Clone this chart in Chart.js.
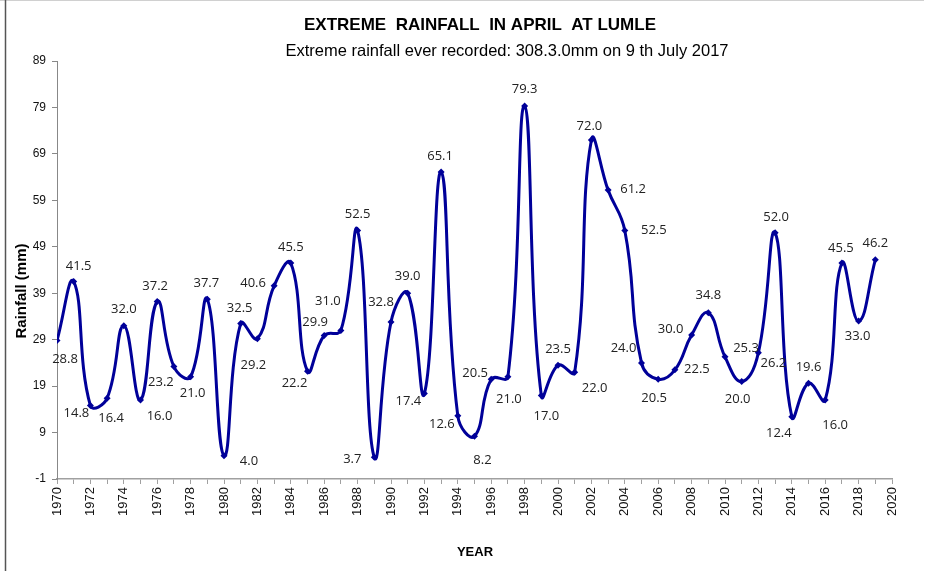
<!DOCTYPE html>
<html>
<head>
<meta charset="utf-8">
<script src="https://cdn.jsdelivr.net/npm/chart.js@4.4.1/dist/chart.umd.min.js"></script>
<style>
  html, body { margin: 0; padding: 0; background: #fff; }
  #wrap { width: 925px; height: 571px; position: relative; }
</style>
</head>
<body>
<div id="wrap"><canvas id="rain_canvas"></canvas></div>
<script>
// Extreme April rainfall at Lumle, one value per year
var years = [];
for (var y = 1970; y <= 2019; y++) years.push(y);

var rainfall = [
  28.8, 41.5, 14.8, 16.4, 32.0, 16.0, 37.2, 23.2, 21.0, 37.7,
  4.0, 32.5, 29.2, 40.6, 45.5, 22.2, 29.9, 31.0, 52.5, 3.7,
  32.8, 39.0, 17.4, 65.1, 12.6, 8.2, 20.5, 21.0, 79.3, 17.0,
  23.5, 22.0, 72.0, 61.2, 52.5, 24.0, 20.5, 22.5, 30.0, 34.8,
  25.3, 20.0, 26.2, 52.0, 12.4, 19.6, 16.0, 45.5, 33.0, 46.2
];

var yTicks = [-1, 9, 19, 29, 39, 49, 59, 69, 79, 89];
var xMin = 1970, xMax = 2020;

var titleText = "EXTREME  RAINFALL  IN APRIL  AT LUMLE";
var subtitleText = "Extreme rainfall ever recorded: 308.3.0mm on 9 th July 2017";
var yTitle = "Rainfall (mm)";
var xTitle = "YEAR";

// where each value label sits relative to its point (style only)
var labelOffsets = [
  [8, 19], [5, -15], [-14, 8], [4, 20], [0, -16], [19, 16], [-2, -15], [-13, 16], [2, 16], [-1, -16],
  [25, 6], [-1, -15], [-4, 27], [-21, -2], [0, -16], [-13, 12], [-9, -13], [-13, -29], [0, -16], [-22, 2],
  [-10, -20], [0, -17], [-16, 8], [-1, -16], [-16, 8], [8, 24], [-16, -6], [1, 22], [0, -17], [5, 21],
  [0, -16], [20, 16], [-2, -14], [25, -1], [29, 0], [-18, -15], [-4, 19], [22, -1], [-21, -6], [0, -17],
  [21, -9], [-4, 18], [15, 11], [1, -16], [-13, 17], [0, -16], [10, 25], [-1, -15], [-1, 15], [0, -16]
];

var points = years.map(function (yr, i) { return { x: yr, y: rainfall[i] }; });

var textPlugin = {
  id: 'texts',
  beforeDraw: function (chart) {
    var ctx = chart.ctx;
    ctx.save();
    ctx.fillStyle = '#fff';
    ctx.fillRect(0, 0, chart.width, chart.height);
    ctx.restore();
  },
  afterDraw: function (chart) {
    var ctx = chart.ctx;
    ctx.save();
    // frame
    ctx.strokeStyle = '#d0d0d0';
    ctx.lineWidth = 2;
    ctx.beginPath(); ctx.moveTo(0, 0); ctx.lineTo(924, 0); ctx.stroke();
    ctx.strokeStyle = '#555';
    ctx.lineWidth = 1.5;
    ctx.beginPath(); ctx.moveTo(5.5, 0); ctx.lineTo(5.5, 571); ctx.stroke();

    ctx.fillStyle = '#000';
    ctx.textAlign = 'center';
    ctx.textBaseline = 'middle';
    ctx.font = 'bold 17px "Liberation Sans", Arial';
    ctx.fillText(titleText, 480, 25);
    ctx.font = '16.5px "Liberation Sans", Arial';
    ctx.fillText(subtitleText, 507, 51);
    ctx.font = 'bold 13px "Liberation Sans", Arial';
    ctx.fillText(xTitle, 475, 552);
    ctx.font = 'bold 15px "Liberation Sans", Arial';
    ctx.save();
    ctx.translate(22, 291);
    ctx.rotate(-Math.PI / 2);
    ctx.fillText(yTitle, 0, 0);
    ctx.restore();

    // value labels
    var meta = chart.getDatasetMeta(0);
    ctx.font = '13px "Open Sans", sans-serif';
    ctx.fillStyle = '#222';
    meta.data.forEach(function (pt, i) {
      var off = labelOffsets[i];
      ctx.fillText(rainfall[i].toFixed(1), pt.x + off[0], pt.y + off[1]);
    });
    ctx.restore();
  }
};

var chart = new Chart(document.getElementById('rain_canvas').getContext('2d'), {
  type: 'line',
  data: {
    datasets: [{
      data: points,
      borderColor: '#000099',
      backgroundColor: '#000099',
      borderWidth: 3,
      tension: 0.45,
      pointStyle: 'rectRot',
      pointRadius: 3.5,
      pointBorderWidth: 0,
      fill: false
    }]
  },
  options: {
    responsive: true,
    maintainAspectRatio: false,
    animation: false,
    layout: { padding: { top: 61, right: 33, left: 0, bottom: 0 } },
    plugins: { legend: { display: false }, tooltip: { enabled: false } },
    scales: {
      x: {
        type: 'linear',
        min: xMin,
        max: xMax,
        afterFit: function (s) { s.height = 92; },
        border: { color: '#a0a0a0', width: 1.5 },
        grid: { drawOnChartArea: false, drawTicks: true, tickLength: 5, color: '#a0a0a0' },
        ticks: {
          stepSize: 1,
          autoSkip: false,
          minRotation: 90,
          maxRotation: 90,
          padding: 3,
          color: '#111',
          font: { family: '"Liberation Sans", Arial', size: 13 },
          callback: function (v) { return v % 2 === 0 ? String(v) : ''; }
        }
      },
      y: {
        min: yTicks[0],
        max: yTicks[yTicks.length - 1],
        afterFit: function (s) { s.width = 57; },
        afterBuildTicks: function (s) { s.ticks = yTicks.map(function (v) { return { value: v }; }); },
        border: { color: '#888', width: 1 },
        grid: { drawOnChartArea: false, drawTicks: true, tickLength: 5, color: '#888' },
        ticks: {
          padding: 6,
          color: '#111',
          font: { family: '"Liberation Sans", Arial', size: 12 }
        }
      }
    }
  },
  plugins: [textPlugin]
});
</script>
</body>
</html>
